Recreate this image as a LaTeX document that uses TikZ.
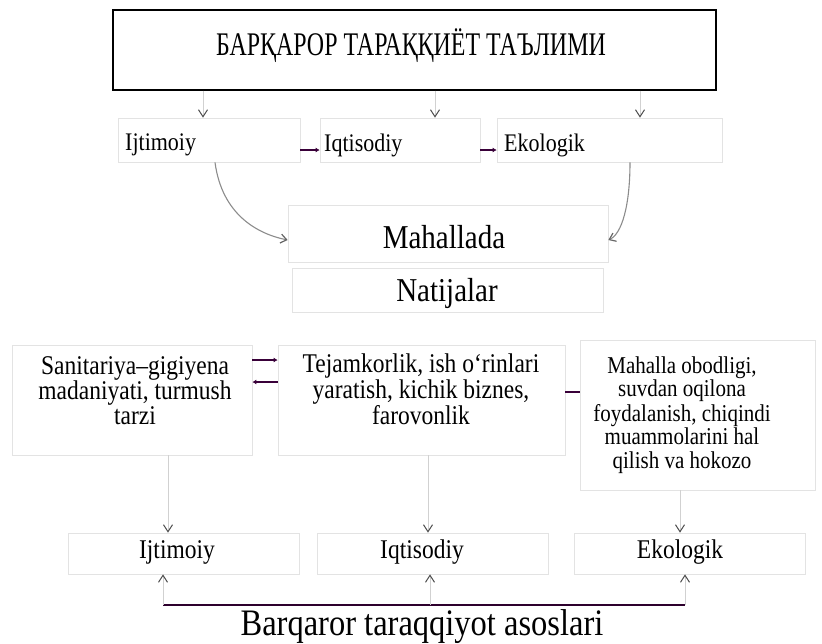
\documentclass[tikz,border=0pt]{standalone}
\usepackage{graphicx}
\usepackage{fontspec}
\setmainfont{Liberation Serif}
\usetikzlibrary{arrows.meta}
\newcommand{\vtx}[1]{\scalebox{1}[1.15]{#1}}
\newcommand{\mlines}[1]{\vtx{\begin{tabular}{@{}c@{}}#1\end{tabular}}}
\begin{document}
\begin{tikzpicture}[x=1pt,y=-1pt,
  box/.style={draw=black!11, line width=0.7pt, rectangle, inner sep=0pt},
  lbl/.style={inner sep=0pt, text=black},
  varr/.style={draw=black!18, line width=0.7pt, -{Straight Barb[length=7pt,width=9pt,color=black!70,line width=1pt]}},
  carr/.style={draw=black!45, line width=1.1pt, -{Straight Barb[length=6pt,width=9pt,color=black!60,line width=1.2pt]}},
  link/.style={draw=violet!45!black, line width=1.6pt, -{Latex[length=4pt,width=5pt]}},
  linkb/.style={draw=violet!45!black, line width=1.6pt},
  bracket/.style={draw=violet!35!black, line width=2.2pt},
]
\useasboundingbox (0,0) rectangle (822,643);

% title
\node[draw=black, line width=1.1pt, minimum width=603pt, minimum height=80pt, inner sep=0pt] (title) at (414.5,50) {};
\node[lbl, font=\fontsize{33}{34}\selectfont] (titletext) at (411,46) {\scalebox{0.725}[1]{БАРҚАРОР ТАРАҚҚИЁТ ТАЪЛИМИ}};

% row 2
\node[box, minimum width=182pt, minimum height=44pt] (r2a) at (209,140) {};
\node[box, minimum width=160pt, minimum height=44pt] (r2b) at (400,140) {};
\node[box, minimum width=225pt, minimum height=44pt] (r2c) at (609.5,140) {};
\node[lbl, anchor=west, font=\fontsize{22}{24}\selectfont] (r2at) at (125,145) {\vtx{Ijtimoiy}};
\node[lbl, anchor=west, font=\fontsize{22}{24}\selectfont] (r2bt) at (324,145) {\vtx{Iqtisodiy}};
\node[lbl, anchor=west, font=\fontsize{22}{24}\selectfont] (r2ct) at (504,145) {\vtx{Ekologik}};

\coordinate (ta) at (203,0);
\coordinate (tb) at (435,0);
\coordinate (tc) at (640,0);
\draw[varr] (ta |- title.south) -- (ta |- r2a.north);
\draw[varr] (tb |- title.south) -- (tb |- r2b.north);
\draw[varr] (tc |- title.south) -- (tc |- r2c.north);

\draw[link] ([yshift=-10pt]r2a.east) -- ([yshift=-10pt]r2b.west);
\draw[link] ([yshift=-10pt]r2b.east) -- ([yshift=-10pt]r2c.west);

% Mahallada / Natijalar
\node[box, minimum width=320pt, minimum height=57pt] (mah) at (448,233.5) {};
\node[lbl, font=\fontsize{29}{31}\selectfont] (maht) at (444,237) {\vtx{Mahallada}};
\node[box, minimum width=311pt, minimum height=44pt] (nat) at (447.5,290) {};
\node[lbl, font=\fontsize{29}{31}\selectfont] (natt) at (447,293) {\vtx{Natijalar}};

\coordinate (ca) at (215,0);
\coordinate (cc) at (630,0);
\coordinate (ma) at (0,240);
\draw[carr] (ca |- r2a.south) .. controls (222,215) and (258,234) .. (mah.west |- ma);
\draw[carr] (cc |- r2c.south) .. controls (630,205) and (622,234) .. (mah.east |- ma);

% row 3
\node[box, minimum width=240pt, minimum height=110pt] (r3a) at (132,400) {};
\node[box, minimum width=287pt, minimum height=110pt] (r3b) at (421.5,400) {};
\node[box, minimum width=235pt, minimum height=150pt] (r3c) at (697.5,415) {};
\node[lbl, font=\fontsize{23.5}{20.5}\selectfont] (r3at) at (135,394) {\mlines{Sanitariya–gigiyena\\madaniyati, turmush\\tarzi}};
\node[lbl, font=\fontsize{23.5}{20.5}\selectfont] (r3bt) at (421,393) {\mlines{Tejamkorlik, ish o‘rinlari\\yaratish, kichik biznes,\\farovonlik}};
\node[lbl, font=\fontsize{21}{20.3}\selectfont] (r3ct) at (682,416) {\mlines{Mahalla obodligi,\\suvdan oqilona\\foydalanish, chiqindi\\muammolarini hal\\qilish va hokozo}};

\draw[link] ([yshift=40pt]r3a.east) -- ([yshift=40pt]r3b.west);
\draw[link] ([yshift=18pt]r3b.west) -- ([yshift=18pt]r3a.east);
\path ([yshift=8pt]r3b.east) coordinate (mr);
\draw[linkb] (mr) -- (mr -| r3c.west);

% row 4
\node[box, minimum width=231pt, minimum height=41pt] (r4a) at (183.5,553.5) {};
\node[box, minimum width=231pt, minimum height=41pt] (r4b) at (432.5,553.5) {};
\node[box, minimum width=231pt, minimum height=41pt] (r4c) at (689.5,553.5) {};
\node[lbl, font=\fontsize{23.5}{25}\selectfont] (r4at) at (177,552) {\vtx{Ijtimoiy}};
\node[lbl, font=\fontsize{23.5}{25}\selectfont] (r4bt) at (422,552) {\vtx{Iqtisodiy}};
\node[lbl, font=\fontsize{23.5}{25}\selectfont] (r4ct) at (680,552) {\vtx{Ekologik}};

\coordinate (da) at (168,0);
\coordinate (db) at (428,0);
\coordinate (dc) at (680,0);
\draw[varr] (da |- r3a.south) -- (da |- r4a.north);
\draw[varr] (db |- r3b.south) -- (db |- r4b.north);
\draw[varr] (dc |- r3c.south) -- (dc |- r4c.north);

% bracket
\coordinate (bl) at (163,605);
\coordinate (br) at (685,605);
\coordinate (bm) at (430,605);
\draw[bracket] (bl) -- (br);
\draw[varr] (bl) -- (bl |- r4a.south);
\draw[varr] (bm) -- (bm |- r4b.south);
\draw[varr] (br) -- (br |- r4c.south);

\node[lbl, font=\fontsize{32.5}{34}\selectfont] (bottom) at (422,627) {\vtx{Barqaror taraqqiyot asoslari}};
\end{tikzpicture}
\end{document}
